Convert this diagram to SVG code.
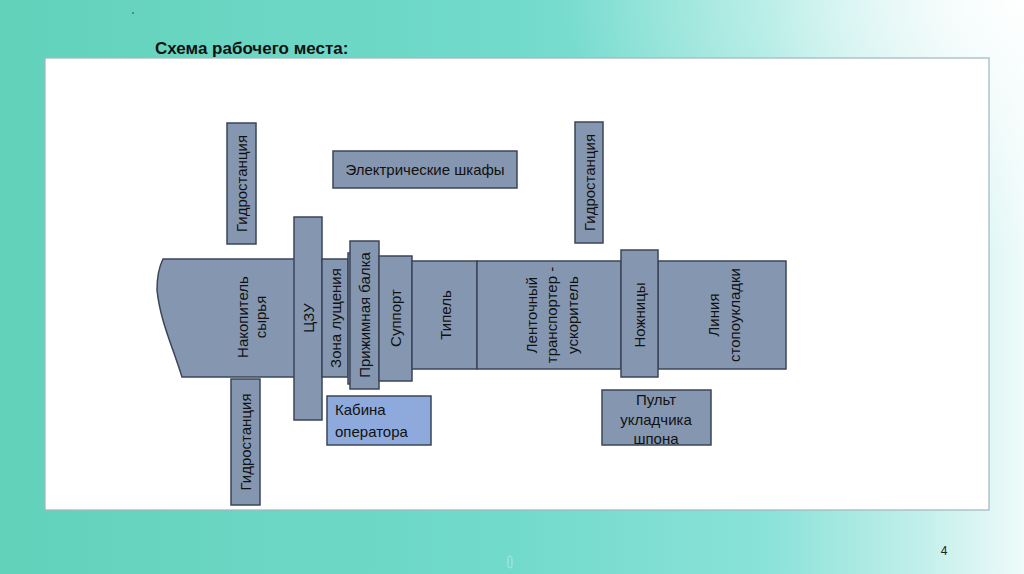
<svg xmlns="http://www.w3.org/2000/svg" width="1024" height="574" viewBox="0 0 1024 574">
  <defs>
    <linearGradient id="bg" x1="0" y1="0" x2="1" y2="0">
      <stop offset="0" stop-color="#62d2bb"/>
      <stop offset="0.5" stop-color="#72dacb"/>
      <stop offset="0.75" stop-color="#8ae2d8"/>
      <stop offset="0.9" stop-color="#c2efeb"/>
      <stop offset="1" stop-color="#eefbfa"/>
    </linearGradient>
    <radialGradient id="glow" cx="1" cy="0" r="0.45">
      <stop offset="0" stop-color="#ffffff" stop-opacity="0.95"/>
      <stop offset="1" stop-color="#ffffff" stop-opacity="0"/>
    </radialGradient>
    <style>
      .blk { fill: #8597b0; stroke: #3b4658; stroke-width: 1.5; }
      .cab { fill: #8eaadc; stroke: #3b4658; stroke-width: 1.5; }
      .t { font-family: "Liberation Sans", Arial, sans-serif; font-size: 15px; fill: #111; }
      .v { text-anchor: middle; dominant-baseline: central; }
    </style>
  </defs>

  <rect x="0" y="0" width="1024" height="574" fill="url(#bg)"/>
  <rect x="0" y="0" width="1024" height="574" fill="url(#glow)"/>
  <circle cx="133" cy="13" r="0.8" fill="#333"/>

  <text x="155" y="54" font-family="Liberation Sans, Arial, sans-serif" font-size="17" font-weight="bold" fill="#111">Схема рабочего места:</text>

  <rect x="45" y="58" width="944" height="452" fill="#ffffff" stroke="#9fb6bf" stroke-width="1.2"/>

  <g id="nakopitel">
    <path class="blk" d="M163,259 L296,259 L296,377 L182,377 C172,345 160,320 157,290 C157,275 160,265 163,259 Z"/>
    <text class="t v" transform="translate(251,317) rotate(-90)"><tspan x="0" dy="-9">Накопитель</tspan><tspan x="0" dy="18">сырья</tspan></text>
  </g>

  <g id="gidro1">
    <rect class="blk" x="227" y="123" width="29" height="121"/>
    <text class="t v" transform="translate(241.5,183.5) rotate(-90)">Гидростанция</text>
  </g>

  <g id="gidro2">
    <rect class="blk" x="231" y="379" width="29" height="126"/>
    <text class="t v" transform="translate(245.5,442) rotate(-90)">Гидростанция</text>
  </g>

  <g id="gidro3">
    <rect class="blk" x="575" y="122" width="28" height="121"/>
    <text class="t v" transform="translate(589,182.5) rotate(-90)">Гидростанция</text>
  </g>

  <g id="shkafy">
    <rect class="blk" x="333" y="151" width="184" height="37"/>
    <text class="t" x="425" y="175" text-anchor="middle">Электрические шкафы</text>
  </g>

  <g id="czu">
    <rect class="blk" x="294" y="217" width="28" height="203"/>
    <text class="t v" transform="translate(308,318) rotate(-90)">ЦЗУ</text>
  </g>

  <g id="zona">
    <rect class="blk" x="322" y="259" width="26" height="118"/>
    <text class="t v" transform="translate(335,318) rotate(-90)">Зона лущения</text>
  </g>

  <g id="strip">
    <rect class="blk" x="348" y="253" width="4" height="131"/>
  </g>

  <g id="balka">
    <rect class="blk" x="350" y="241" width="29" height="148"/>
    <text class="t v" transform="translate(364.5,315) rotate(-90)">Прижимная балка</text>
  </g>

  <g id="support">
    <rect class="blk" x="379" y="256" width="33" height="125"/>
    <text class="t v" transform="translate(395.5,318) rotate(-90)">Суппорт</text>
  </g>

  <g id="tipel">
    <rect class="blk" x="412" y="261" width="65" height="108"/>
    <text class="t v" transform="translate(445,315) rotate(-90)">Типель</text>
  </g>

  <g id="lenta">
    <rect class="blk" x="477" y="261" width="144" height="108"/>
    <text class="t v" transform="translate(551,315) rotate(-90)"><tspan x="0" dy="-20.5">Ленточный</tspan><tspan x="0" dy="20.5">транспортер -</tspan><tspan x="0" dy="20.5">ускоритель</tspan></text>
  </g>

  <g id="linia">
    <rect class="blk" x="658" y="261" width="128" height="108"/>
    <text class="t v" transform="translate(723,315) rotate(-90)"><tspan x="0" dy="-10">Линия</tspan><tspan x="0" dy="20.5">стопоукладки</tspan></text>
  </g>

  <g id="nozhnicy">
    <rect class="blk" x="621" y="250" width="37" height="127"/>
    <text class="t v" transform="translate(639.5,315) rotate(-90)">Ножницы</text>
  </g>

  <g id="kabina">
    <rect class="cab" x="327" y="396" width="104" height="49"/>
    <text class="t" x="335" y="415">Кабина</text>
    <text class="t" x="335" y="437">оператора</text>
  </g>

  <g id="pult">
    <rect class="blk" x="602" y="390" width="109" height="55"/>
    <text class="t" x="656" y="405" text-anchor="middle">Пульт</text>
    <text class="t" x="656" y="425" text-anchor="middle">укладчика</text>
    <text class="t" x="656" y="444" text-anchor="middle">шпона</text>
  </g>

  <g id="connectors"></g>

  <text x="944" y="555" font-family="Liberation Sans, Arial, sans-serif" font-size="12" fill="#222" text-anchor="middle">4</text>
  <rect x="508" y="556" width="4" height="12" rx="2" fill="none" stroke="#a8e8de" stroke-width="1"/>
</svg>
